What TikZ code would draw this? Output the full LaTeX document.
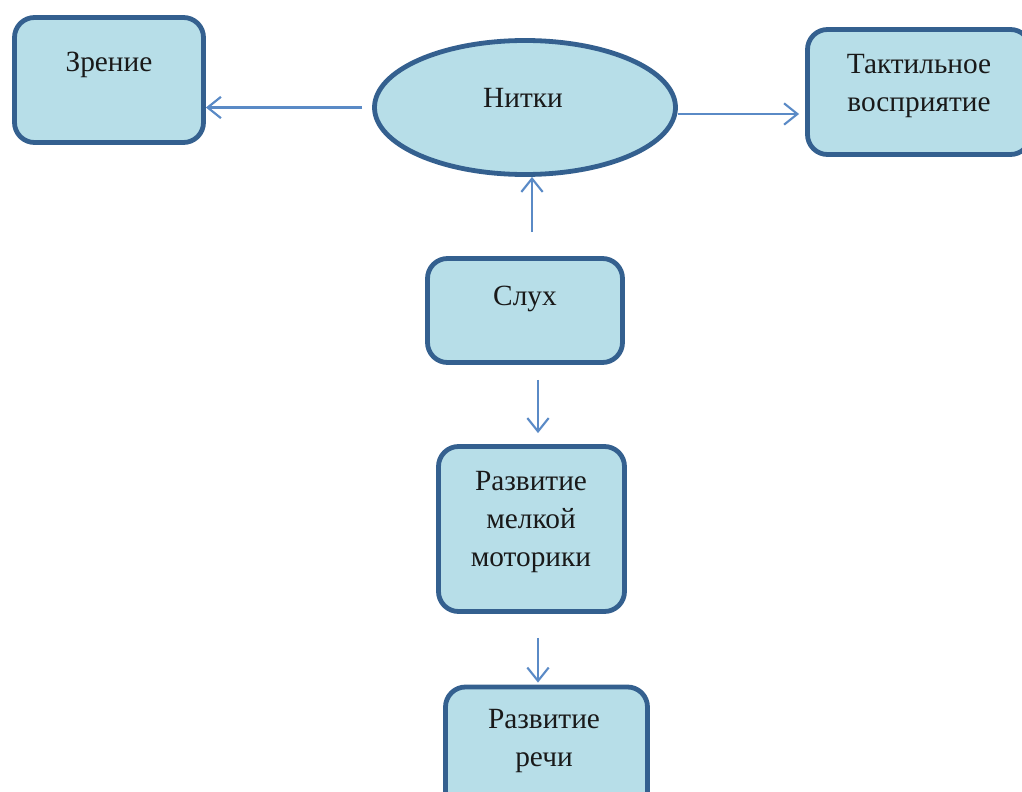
\documentclass[tikz,border=0pt]{standalone}
\usepackage{fontspec}
\setmainfont{Liberation Serif}
\usetikzlibrary{arrows.meta,shapes.geometric}
\definecolor{boxfill}{HTML}{B7DEE8}
\definecolor{boxline}{HTML}{34608F}
\definecolor{arrline}{HTML}{5A8AC6}
\tikzset{
  box/.style={draw=boxline, fill=boxfill, line width=3.6pt, rounded corners=15pt, inner sep=0pt},
  oval/.style={draw=boxline, fill=boxfill, line width=3.6pt, ellipse, inner sep=0pt},
  txt/.style={anchor=base, align=center, inner sep=0pt, font=\fontsize{22}{28.5}\selectfont, text=black!90},
  arr/.style={draw=arrline, line width=1.6pt, -{Straight Barb[length=10pt,width=16pt,line width=1.6pt]}},
}
\begin{document}
\begin{tikzpicture}[x=0.75pt,y=-0.75pt]
\useasboundingbox (0,0) rectangle (1022,792);
\clip (0,0) rectangle (1022,792);
% boxes
\node[box, minimum width=189*0.75pt, minimum height=125*0.75pt] (A) at (109,80) {};
\node[oval, minimum width=301*0.75pt, minimum height=134*0.75pt] (C) at (525,107.5) {};
\node[box, minimum width=223*0.75pt, minimum height=125*0.75pt] (B) at (919,92) {};
\node[box, minimum width=195*0.75pt, minimum height=104*0.75pt] (D) at (525,310.5) {};
\node[box, minimum width=186*0.75pt, minimum height=165*0.75pt] (E) at (531.5,529) {};
\node[box, minimum width=202*0.75pt, minimum height=130*0.75pt] (F) at (546.5,752) {};
% texts (base anchor = baseline of the last line)
\node[txt] (tA) at (109,72) {Зрение};
\node[txt] (tC) at (523,108) {Нитки};
\node[txt] (tB) at (919,112) {Тактильное\\восприятие};
\node[txt] (tD) at (525,305) {Слух};
\node[txt] (tE) at (531,566) {Развитие\\мелкой\\моторики};
\node[txt] (tF) at (544,766) {Развитие\\речи};
% connectors
\draw[arr] ([shift={(-10,0)}]C.west) -- (C.west -| A.east);
\draw[arr, shorten >=6*0.75pt] ([shift={(0,6.5)}]C.east) -- ([shift={(0,6.5)}]C.east -| B.west);
\draw[arr] ([shift={(7,-24)}]D.north) -- ([shift={(7,0)}]C.south);
\draw[arr, shorten <=15*0.75pt, shorten >=11*0.75pt] ([shift={(13,0)}]D.south) -- ([shift={(13,0)}]D.south |- E.north);
\draw[arr, shorten <=24*0.75pt, shorten >=2*0.75pt] ([shift={(6.5,0)}]E.south) -- ([shift={(6.5,0)}]E.south |- F.north);
\end{tikzpicture}
\end{document}
